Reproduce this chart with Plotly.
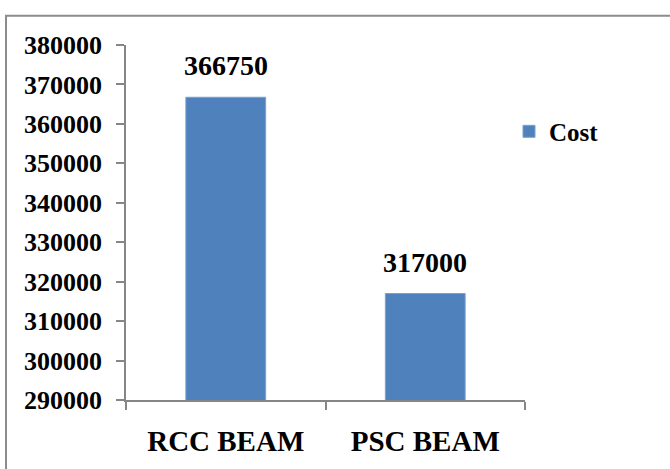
import plotly.graph_objects as go

# Cost comparison of beam types
categories = ["RCC BEAM", "PSC BEAM"]
cost = [366750, 317000]
series_name = "Cost"
y_ticks = [290000, 300000, 310000, 320000, 330000, 340000, 350000, 360000, 370000, 380000]

W, H = 670, 469
L, R, T, B = 126, 145, 45, 61
pw, ph = W - L - R, H - T - B

bar_color = "#4F81BD"
axis_color = "#868686"
font_family = "Liberation Serif, Times New Roman, serif"

fig = go.Figure()
fig.add_trace(go.Bar(
    x=categories,
    y=cost,
    name=series_name,
    marker=dict(color=bar_color, line=dict(color="#7BA0CD", width=1)),
    showlegend=True,
))

# value labels above each bar
annotations = [
    dict(x=c, y=v, xref="x", yref="y", text=f"<b>{v}</b>", showarrow=False,
         yanchor="bottom", yshift=14,
         font=dict(family=font_family, size=28, color="black"))
    for c, v in zip(categories, cost)
]

def px_x(p):
    return (p - L) / pw

def px_y(p):
    return (H - B - p) / ph

fig.update_layout(
    width=W, height=H,
    margin=dict(l=L, r=R, t=T, b=B),
    paper_bgcolor="white",
    plot_bgcolor="white",
    bargap=0.6,
    font=dict(family=font_family, color="black"),
    annotations=annotations,
    showlegend=True,
    legend=dict(
        x=px_x(509), y=px_y(110), xanchor="left", yanchor="top",
        font=dict(family=font_family, size=25, color="black", weight="bold"),
        bgcolor="rgba(0,0,0,0)",
        itemwidth=30,
    ),
    shapes=[dict(
        type="rect", xref="paper", yref="paper",
        x0=px_x(6), x1=px_x(690), y0=px_y(490), y1=px_y(15),
        line=dict(color="#8C8C8C", width=2), fillcolor="rgba(0,0,0,0)", layer="below",
    )],
)

fig.update_xaxes(
    showline=True, linecolor=axis_color, linewidth=1.5,
    ticks="outside", ticklen=8, tickcolor=axis_color, tickwidth=1.5,
    tickson="boundaries", ticklabelstandoff=14,
    tickfont=dict(family=font_family, size=29, color="black", weight="bold"),
    showgrid=False, zeroline=False,
)
fig.update_yaxes(
    range=[290000, 380000],
    tickvals=y_ticks, ticktext=[str(t) for t in y_ticks],
    showline=True, linecolor=axis_color, linewidth=1.5,
    ticks="outside", ticklen=8, tickcolor=axis_color, tickwidth=1.5,
    ticklabelstandoff=9,
    tickfont=dict(family=font_family, size=26, color="black", weight="bold"),
    showgrid=False, zeroline=False,
)

fig.write_html("out.html")
